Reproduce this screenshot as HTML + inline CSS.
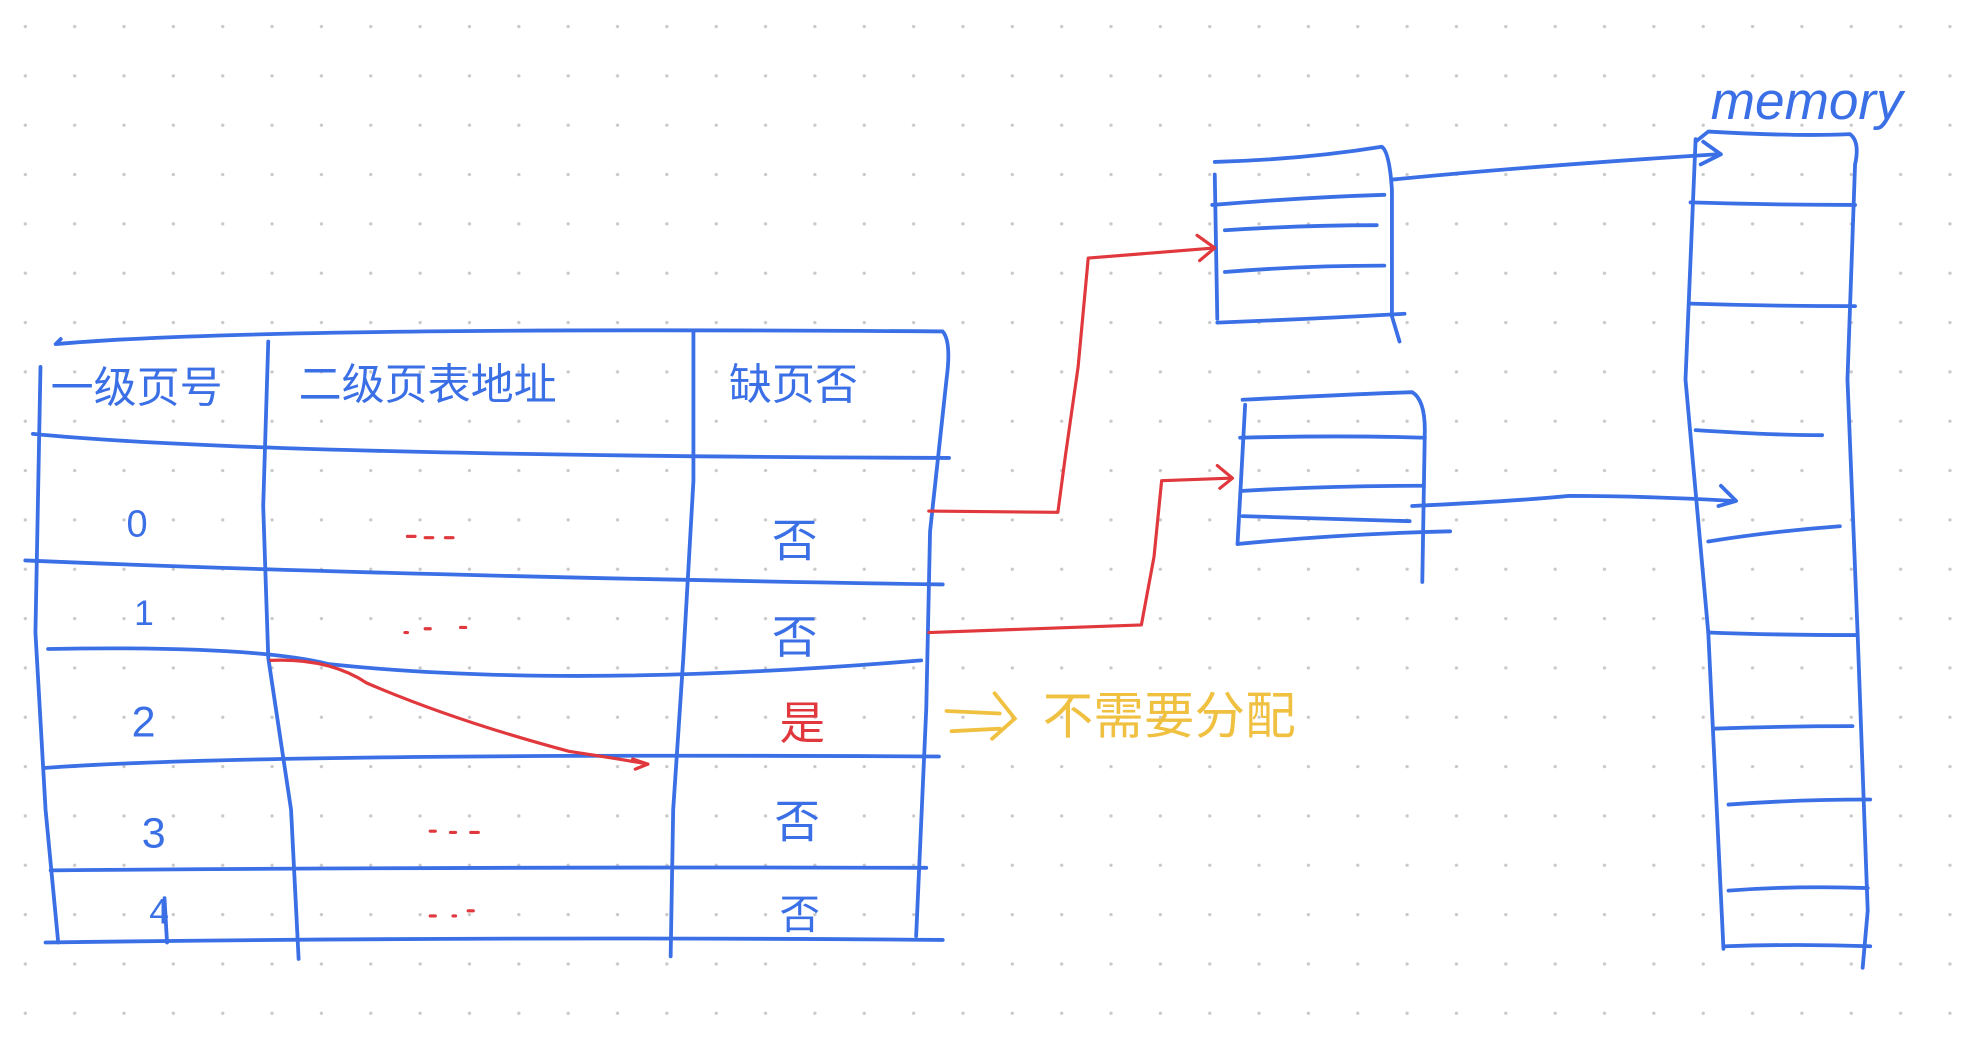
<!DOCTYPE html>
<html><head><meta charset="utf-8"><style>
html,body{margin:0;padding:0;background:#fff;}
svg{display:block}
text{font-family:"Liberation Sans","Noto Sans CJK SC",sans-serif;}
</style></head><body>
<svg width="1974" height="1050" viewBox="0 0 1560 830" preserveAspectRatio="none" xmlns="http://www.w3.org/2000/svg">
<defs>
<pattern id="dots" x="0" y="0" width="39" height="39" patternUnits="userSpaceOnUse">
<circle cx="20" cy="21" r="1.3" fill="#c8c8c8"/>
</pattern>
</defs>
<rect width="1560" height="830" fill="#fff"/>
<rect width="1560" height="830" fill="url(#dots)"/>
<g fill="none" stroke="#3a6fe6" stroke-width="3" stroke-linecap="round" stroke-linejoin="round">
<!-- table -->
<path d="M48 268 L44 272 Q200 258 745 262 Q752 270 748 300 L735 420 L732 560 L724 740"/>
<path d="M32 290 L28 500 L36 640 L46 745"/>
<path d="M212 270 L208 400 L212 520 L230 640 L236 758"/>
<path d="M548 262 L548 380 L540 520 L532 640 L530 756"/>
<path d="M26 343 Q200 360 750 362"/>
<path d="M20 443 Q300 455 745 462"/>
<path d="M38 513 Q200 510 260 525 Q450 545 728 522"/>
<path d="M36 607 Q200 595 742 598"/>
<path d="M40 688 Q400 685 732 686"/>
<path d="M36 745 Q400 740 745 743"/>
<path d="M130 710 L132 745"/>
<!-- box1 -->
<path d="M960 128 Q1030 126 1092 116 Q1098 120 1100 150 L1100 250 L1106 270"/>
<path d="M960 138 L962 252"/>
<path d="M958 162 Q1030 156 1094 154"/>
<path d="M968 182 Q1030 178 1088 178"/>
<path d="M968 215 Q1030 210 1094 210"/>
<path d="M962 255 Q1040 252 1110 248"/>
<!-- box2 -->
<path d="M982 316 Q1060 312 1116 310 Q1126 316 1126 340 L1124 460"/>
<path d="M984 320 L978 430"/>
<path d="M980 346 Q1060 344 1126 346"/>
<path d="M982 388 Q1050 384 1124 384"/>
<path d="M982 408 Q1050 410 1114 412"/>
<path d="M978 430 Q1060 422 1146 420"/>
<!-- memory -->
<path d="M1340 112 L1350 104 Q1420 108 1462 106 Q1470 112 1466 130 L1460 300 L1468 500 L1476 720 L1472 765"/>
<path d="M1340 110 L1332 300 L1350 500 L1362 750"/>
<path d="M1336 160 Q1400 162 1466 162"/>
<path d="M1336 240 Q1400 242 1466 242"/>
<path d="M1340 340 Q1400 344 1440 344"/>
<path d="M1350 428 Q1400 420 1454 416"/>
<path d="M1350 500 Q1400 502 1468 502"/>
<path d="M1354 576 Q1410 574 1464 574"/>
<path d="M1366 636 Q1420 632 1478 632"/>
<path d="M1366 704 Q1420 700 1476 702"/>
<path d="M1364 748 Q1420 746 1478 748"/>
<!-- arrows to memory -->
<path d="M1100 142 Q1200 132 1356 122"/>
<path d="M1346 112 L1360 122 L1344 130"/>
<path d="M1116 400 Q1200 396 1240 392 Q1300 392 1370 396"/>
<path d="M1360 384 L1372 396 L1358 400"/>
</g>
<g fill="none" stroke="#e0383c" stroke-width="2.5" stroke-linecap="round" stroke-linejoin="round">
<path d="M734 404 L836 405 L842 360 L852 290 L860 204 L960 196"/>
<path d="M946 186 L960 196 L948 206"/>
<path d="M734 500 L902 494 L912 440 L918 380 L972 378"/>
<path d="M962 368 L974 378 L964 386"/>
<path d="M214 522 Q260 520 290 540 Q360 570 450 594 Q490 600 512 604"/>
<path d="M500 600 L512 604 L502 608"/>
<path d="M322 424 l6 0 M336 425 l6 0 M352 425 l6 0"/>
<path d="M320 500 l2 0 M336 497 l4 0 M364 496 l4 0"/>
<path d="M340 657 l4 0 M356 658 l4 0 M372 658 l6 0"/>
<path d="M340 724 l4 0 M358 724 l2 0 M370 720 l4 0"/>
</g>
<g fill="#3a6fe6" font-size="34">
<text x="40" y="318">一级页号</text>
<text x="236" y="316">二级页表地址</text>
<text x="576" y="316">缺页否</text>
<text x="100" y="424" font-size="30">0</text>
<text x="106" y="494" font-size="28">1</text>
<text x="104" y="582" font-size="34">2</text>
<text x="112" y="670" font-size="34">3</text>
<text x="118" y="730" font-size="28">4</text>
<text x="610" y="440" font-size="36">否</text>
<text x="610" y="516" font-size="36">否</text>
<text x="612" y="662" font-size="36">否</text>
<text x="616" y="734" font-size="32">否</text>
<text x="1352" y="94" font-size="42" font-style="italic">memory</text>
</g>
<text x="616" y="584" font-size="36" fill="#e0383c">是</text>
<g fill="none" stroke="#f0c040" stroke-width="3" stroke-linecap="round">
<path d="M748 562 L790 564 M752 578 L790 576 M786 548 L802 568 L784 584"/>
</g>
<text x="824" y="580" font-size="40" fill="#f0c040">不需要分配</text>
</svg>
</body></html>
